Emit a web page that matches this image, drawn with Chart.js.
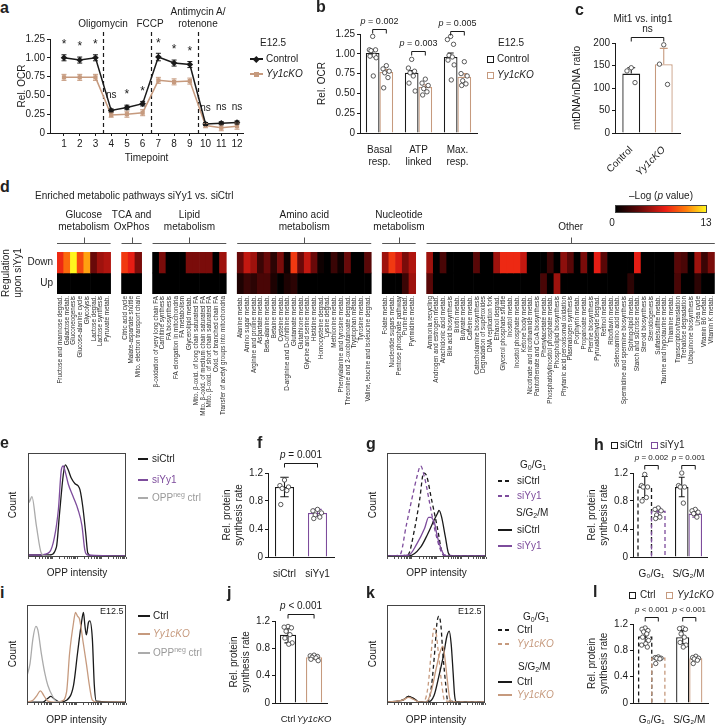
<!DOCTYPE html>
<html>
<head>
<meta charset="utf-8">
<title>Yy1 metabolism figure</title>
<script src="https://cdn.jsdelivr.net/npm/chart.js@4.4.1/dist/chart.umd.min.js"></script>
<style>
  body { margin: 0; background: #fff; font-family: "Liberation Sans", Arial, sans-serif; color: #222; }
  #fig { position: relative; width: 721px; height: 726px; overflow: hidden; }
  .c { position: absolute; }
  .t { position: absolute; font-size: 10px; line-height: 12px; white-space: nowrap; }
  .L { position: absolute; font-weight: bold; font-size: 16px; line-height: 16px; }
  .sup { font-size: 7px; vertical-align: 4px; line-height: 0; }
  .sub { font-size: 7px; vertical-align: -2px; line-height: 0; }
</style>
</head>
<body>
<div id="fig"></div>
<script>
const TAN = '#c69a7e', PURPLE = '#7d4c9c', GRAY = '#ababab', INK = '#1a1a1a';
const FONT = "'Liberation Sans', Arial, sans-serif";

// ---- a: OCR time course
const aTime = [1, 2, 3, 4, 5, 6, 7, 8, 9, 10, 11, 12];
const aControl = [1.00, 0.97, 1.00, 0.30, 0.34, 0.39, 1.01, 0.93, 0.91, 0.12, 0.13, 0.14];
const aControlErr = [0.04, 0.04, 0.04, 0.02, 0.03, 0.03, 0.05, 0.04, 0.04, 0.02, 0.02, 0.02];
const aKO = [0.74, 0.74, 0.74, 0.24, 0.25, 0.27, 0.70, 0.68, 0.69, 0.10, 0.07, 0.09];
const aKOErr = [0.04, 0.04, 0.04, 0.03, 0.04, 0.04, 0.04, 0.04, 0.04, 0.03, 0.04, 0.04];
const aSig = ['*', '*', '*', 'ns', '*', '*', '*', '*', '*', 'ns', 'ns', 'ns'];
const aInjections = [3.5, 6.5, 9.5];

// ---- b: OCR parameters
const bCats = [['Basal', 'resp.'], ['ATP', 'linked'], ['Max.', 'resp.']];
const bControl = [1.01, 0.76, 0.96];
const bControlErr = [0.04, 0.03, 0.05];
const bKO = [0.77, 0.58, 0.71];
const bKOErr = [0.03, 0.03, 0.04];
const bControlPts = [[1.22, 1.05, 1.05, 1.04, 0.98, 0.97, 0.95, 0.72], [0.93, 0.82, 0.78, 0.76, 0.72, 0.63, 0.53], [1.22, 1.18, 1.12, 0.98, 0.96, 0.92, 0.86, 0.67]];
const bKOPts = [[0.85, 0.81, 0.78, 0.76, 0.70, 0.57], [0.68, 0.63, 0.60, 0.56, 0.52, 0.48], [0.90, 0.75, 0.72, 0.66, 0.62, 0.60]];
const bPvals = ['p = 0.002', 'p = 0.003', 'p = 0.005'];
const bBracket = [1.31, 1.04, 1.29];

// ---- c: mtDNA / nDNA
const cCats = ['Control', 'Yy1cKO'];
const cMeans = [132, 153];
const cErr = [13, 35];
const cPts = [[145, 138, 112], [196, 153, 108]];

// ---- d: pathway heatmap (-log p)
const hmGroupTitles = [['Glucose', 'metabolism'], ['TCA and', 'OxPhos'], ['Lipid', 'metabolism'], ['Amino acid', 'metabolism'], ['Nucleotide', 'metabolism'], ['', 'Other']];
const hmGlucose = ['Fructose and mannose degrad.', 'Galactose metab.', 'Gluconeogenesis', 'Glucose-alanine cycle', 'Glycolysis', 'Lactose degrad.', 'Lactose synthesis', 'Pyruvate metab.'];
const hmTca = ['Citric acid cycle', 'Malate-aspartate shuttle', 'Mito. electron transport chain'];
const hmLipid = ['β-oxidation of very long chain FA', 'Carnitine synthesis', 'FA biosynthesis', 'FA elongation in mitochondria', 'FA metabolism', 'Glycerolipid metab.', 'Mito. β-oxid. of long chain saturated FA', 'Mito. β-oxid. of medium chain saturated FA', 'Mito. β-oxid. of short chain saturated FA', 'Oxid. of branched chain FA', 'Transfer of acetyl groups into mitochondria'];
const hmAmino = ['Alanine metab.', 'Amino sugar metab.', 'Arginine and proline metab.', 'Aspartate metab.', 'Beta-alanine metab.', 'Betaine metab.', 'Cysteine metab.', 'D-arginine and D-ornithine metab.', 'Glutamate metab.', 'Glutathione metab.', 'Glycine and serine metab.', 'Histidine metab.', 'Homocysteine degrad.', 'Lysine degrad.', 'Methionine metab.', 'Phenylalanine and tyrosine metab.', 'Threonine and 2-oxobutanoate degrad.', 'Tryptophan metab.', 'Tyrosine metab.', 'Valine, leucine and isoleucine degrad.'];
const hmNucleotide = ['Folate metab.', 'Nucleotide sugars metab.', 'Pentose phosphate pathway', 'Purine metab.', 'Pyrimidine metab.'];
const hmOther = ['Ammonia recycling', 'Androgen and estrogen metab.', 'Arachidonic acid metab.', 'Bile acid biosynthesis', 'Biotin metab.', 'Butyrate metab.', 'Caffeine metab.', 'Catecholamine biosynthesis', 'Degradation of superoxides', 'DNA replication fork', 'Ethanol degrad.', 'Glycerol phosphate shuttle', 'Inositol metab.', 'Inositol phosphate metab.', 'Ketone body metab.', 'Nicotinate and nicotinamide metab.', 'Pantothenate and CoA biosynthesis', 'Phenylacetate metab.', 'Phosphatidylinositol phosphate metab.', 'Phospholipid biosynthesis', 'Phytanic acid peroxisomal oxidation', 'Plasmalogen synthesis', 'Porphyrin metab.', 'Propanoate metab.', 'Pterine biosynthesis', 'Pyruvaldehyde degrad.', 'Retinol metab.', 'Riboflavin metab.', 'Selenoamino acid metab.', 'Spermidine and spermine biosynthesis', 'Sphingolipid metab.', 'Starch and sucrose metab.', 'Steroid biosynthesis', 'Steroidogenesis', 'Sulfate/sulfite metab.', 'Taurine and hypotaurine metab.', 'Thiamine metab.', 'Transcription/translation', 'Trehalose degradation', 'Ubiquinone biosynthesis', 'Urea cycle', 'Vitamin B6 metab.', 'Vitamin K metab.'];
const hmDown = [
  [7.5, 9.5, 13, 8.5, 11, 3.5, 5, 5.5],
  [8, 7, 4],
  [0, 4, 0, 0, 0, 4, 4, 4, 4, 0, 5],
  [3.5, 6, 5, 2, 3.5, 1.5, 4, 0.5, 8, 3.5, 6, 3.5, 0.5, 0, 2, 0.5, 3.5, 0, 0, 3],
  [5, 8, 6.5, 4, 5.5],
  [5, 0, 2.5, 0, 0, 0, 0, 3, 0, 0, 5, 7.5, 7.5, 7.5, 6, 0, 0, 0, 2, 0, 4.5, 3, 0, 4, 0, 7, 3, 0, 0, 0, 0, 7, 0, 0, 0, 0, 0, 3, 2.5, 0, 5, 2, 4]
];
const hmUp = [
  [0, 0, 0, 0, 0, 0, 0, 0],
  [0, 0, 0],
  [0, 0, 0, 0, 0, 0, 0, 0, 0, 0, 0],
  [1, 2, 1.5, 2.5, 2.5, 1, 0, 1, 1.5, 0, 0, 0, 0, 0, 0, 0, 0, 0, 0, 0],
  [0, 0, 0, 2, 5],
  [3, 0, 0, 0, 0, 0, 0, 0, 0, 0, 0, 0, 0, 0, 0, 0, 0, 2.5, 0, 5, 0, 0, 0, 0, 0, 0, 0, 0, 0, 0, 1.5, 0, 0, 0, 0, 0, 0, 2.5, 0, 0, 1.5, 0, 0]
];
const hmScaleMax = 13;

// ---- e, g, i, k: OPP histograms, [log intensity (decades), relative count]
const eSiCtrl = [[0, 0.02], [0.88, 0.02], [1.16, 0.1], [1.28, 0.42], [1.44, 0.83], [1.52, 0.93], [1.64, 0.88], [1.76, 0.8], [1.92, 0.74], [2.04, 0.72], [2.12, 0.68], [2.24, 0.5], [2.36, 0.23], [2.44, 0.04], [2.6, 0.01], [4, 0.01]];
const eSiYy1 = [[0, 0.02], [0.5, 0.02], [0.88, 0.05], [1.08, 0.2], [1.24, 0.48], [1.36, 0.88], [1.44, 0.92], [1.5, 0.88], [1.64, 0.74], [1.84, 0.61], [2.04, 0.48], [2.2, 0.32], [2.32, 0.07], [2.44, 0.02], [4, 0.01]];
const eNeg = [[0, 0.97], [0.04, 0.55], [0.16, 0.61], [0.34, 0.32], [0.54, 0.04], [0.7, 0.01], [0.9, 0.01]];
const gG1SiCtrl = [[0, 0.01], [0.84, 0.02], [1.12, 0.29], [1.32, 0.58], [1.48, 0.85], [1.6, 0.82], [1.8, 0.58], [2.04, 0.29], [2.2, 0.07], [2.32, 0.01], [4, 0.01]];
const gG1SiYy1 = [[0, 0.01], [0.52, 0.02], [0.78, 0.32], [1.0, 0.58], [1.2, 0.8], [1.36, 0.92], [1.52, 0.8], [1.72, 0.55], [1.92, 0.29], [2.12, 0.1], [2.28, 0.02], [4, 0.01]];
const gG2SiCtrl = [[0, 0.01], [0.88, 0.01], [1.36, 0.1], [1.64, 0.23], [1.88, 0.36], [2.04, 0.44], [2.1, 0.47], [2.2, 0.41], [2.36, 0.2], [2.48, 0.04], [2.6, 0.01], [4, 0.01]];
const gG2SiYy1 = [[0, 0.01], [0.88, 0.02], [1.2, 0.13], [1.52, 0.29], [1.68, 0.4], [1.76, 0.4], [1.92, 0.34], [2.04, 0.2], [2.24, 0.05], [2.36, 0.01], [4, 0.01]];
const iCtrl = [[0, 0.01], [0.64, 0.01], [0.84, 0.05], [0.96, 0.07], [1.12, 0.04], [1.32, 0.01], [1.6, 0.03], [1.88, 0.19], [2.04, 0.53], [2.2, 0.86], [2.28, 0.97], [2.34, 0.83], [2.4, 0.73], [2.48, 0.86], [2.54, 0.88], [2.64, 0.69], [2.72, 0.19], [2.8, 0.02], [4, 0.01]];
const iKO = [[0, 0.01], [0.24, 0.03], [0.4, 0.08], [0.54, 0.13], [0.68, 0.08], [0.84, 0.02], [1.16, 0.01], [1.4, 0.02], [1.6, 0.12], [1.72, 0.53], [1.88, 0.86], [1.96, 0.97], [2.04, 0.93], [2.12, 0.9], [2.28, 0.63], [2.4, 0.42], [2.52, 0.19], [2.64, 0.03], [2.8, 0.01], [4, 0.01]];
const iNeg = [[0, 0.29], [0.12, 0.42], [0.24, 0.69], [0.36, 0.82], [0.44, 0.78], [0.58, 0.53], [0.72, 0.32], [0.84, 0.19], [1.04, 0.07], [1.24, 0.01], [1.4, 0.01]];
const kG1Ctrl = [[0, 0.01], [0.64, 0.03], [0.88, 0.07], [1.08, 0.05], [1.32, 0.01], [1.68, 0.02], [1.82, 0.19], [1.96, 0.59], [2.04, 0.86], [2.12, 0.93], [2.2, 0.83], [2.28, 0.53], [2.4, 0.19], [2.48, 0.02], [4, 0.01]];
const kG1KO = [[0, 0.01], [0.64, 0.03], [0.88, 0.07], [1.08, 0.05], [1.32, 0.01], [1.54, 0.03], [1.68, 0.19], [1.8, 0.53], [1.92, 0.8], [2.0, 0.76], [2.1, 0.53], [2.24, 0.19], [2.36, 0.02], [4, 0.01]];
const kG2Ctrl = [[0, 0.01], [0.64, 0.03], [0.88, 0.07], [1.08, 0.05], [1.32, 0.01], [1.68, 0.01], [1.92, 0.08], [2.12, 0.29], [2.32, 0.53], [2.44, 0.71], [2.54, 0.77], [2.62, 0.63], [2.7, 0.32], [2.76, 0.08], [2.84, 0.01], [4, 0.01]];
const kG2KO = [[0, 0.01], [0.64, 0.03], [0.88, 0.06], [1.08, 0.04], [1.32, 0.01], [1.6, 0.01], [1.8, 0.12], [2.0, 0.36], [2.16, 0.54], [2.28, 0.61], [2.36, 0.49], [2.46, 0.25], [2.56, 0.05], [2.68, 0.01], [4, 0.01]];

// ---- f, h, j, l: relative protein synthesis
const fCats = ['siCtrl', 'siYy1'];
const fMeans = [1.0, 0.63];
const fErr = [0.14, 0.05];
const fPts = [[1.10, 1.02, 1.00, 0.98, 0.95, 0.75], [0.68, 0.66, 0.63, 0.60, 0.57, 0.55]];
const hCats = ['G₀/G₁', 'S/G₂/M'];
const hSiCtrl = [1.0, 1.0];
const hSiCtrlErr = [0.15, 0.14];
const hSiCtrlPts = [[1.18, 1.02, 1.0, 1.0, 0.85, 0.80], [1.2, 1.02, 1.0, 1.0, 0.77]];
const hSiYy1 = [0.65, 0.62];
const hSiYy1Err = [0.05, 0.05];
const hSiYy1Pts = [[0.70, 0.68, 0.66, 0.60, 0.57, 0.55], [0.68, 0.66, 0.64, 0.62, 0.57]];
const hPvals = ['p = 0.002', 'p = 0.001'];
const jCats = ['Ctrl', 'Yy1cKO'];
const jMeans = [1.0, 0.67];
const jErr = [0.12, 0.03];
const jPts = [[1.12, 1.11, 1.10, 1.05, 1.0, 0.95, 0.88, 0.86], [0.70, 0.69, 0.68, 0.67, 0.66, 0.64, 0.62]];
const lCats = ['G₀/G₁', 'S/G₂/M'];
const lCtrl = [1.0, 1.0];
const lCtrlErr = [0.12, 0.10];
const lCtrlPts = [[1.14, 1.12, 1.10, 1.08, 1.05, 1.0, 0.95, 0.90, 0.88, 0.85], [1.14, 1.13, 1.12, 1.05, 1.0, 0.92, 0.88, 0.85]];
const lKO = [0.68, 0.68];
const lKOErr = [0.02, 0.02];
const lKOPts = [[0.70, 0.69, 0.68, 0.68, 0.67, 0.60], [0.71, 0.69, 0.68, 0.67, 0.65, 0.60]];
const lPvals = ['p < 0.001', 'p < 0.001'];

// ------------------------------------------------------------------
Chart.defaults.font.family = FONT;
Chart.defaults.font.size = 10;
Chart.defaults.color = INK;
Chart.defaults.animation = false;
Chart.defaults.responsive = false;
Chart.defaults.events = [];
Chart.defaults.plugins.legend.display = false;
Chart.defaults.plugins.tooltip.enabled = false;

const fig = document.getElementById('fig');

function addCanvas(x, y, w, h) {
  const cv = document.createElement('canvas');
  cv.width = w; cv.height = h;
  cv.className = 'c';
  cv.style.left = x + 'px'; cv.style.top = y + 'px';
  cv.style.width = w + 'px'; cv.style.height = h + 'px';
  fig.appendChild(cv);
  return cv;
}

// text centred vertically on yc
function txt(x, yc, html, align, extra) {
  const d = document.createElement('div');
  d.className = 't';
  d.innerHTML = html;
  d.style.top = (yc - 6) + 'px';
  d.style.left = x + 'px';
  if (align === 'c') d.style.transform = 'translateX(-50%)';
  if (extra) d.style.cssText += extra;
  fig.appendChild(d);
}
function letter(ch, x, y) {
  const d = document.createElement('div');
  d.className = 'L';
  d.textContent = ch;
  d.style.left = x + 'px'; d.style.top = y + 'px';
  fig.appendChild(d);
}
function lgLine(x, yc, w, color, dash) {
  const d = document.createElement('div');
  const bg = dash ? `repeating-linear-gradient(90deg, ${color} 0 4px, transparent 4px 7px)` : color;
  d.style.cssText = `position:absolute;left:${x}px;top:${yc - 0.75}px;width:${w}px;height:1.5px;background:${bg};`;
  fig.appendChild(d);
}
function lgMark(x, yc, s, color, opts) {
  const d = document.createElement('div');
  const o = opts || {};
  d.style.cssText = `position:absolute;left:${x - s / 2}px;top:${yc - s / 2}px;width:${s}px;height:${s}px;box-sizing:border-box;` +
    (o.open ? `border:1.3px solid ${color};background:#fff;` : `background:${color};`) +
    (o.rot ? 'transform:rotate(45deg);' : '');
  fig.appendChild(d);
}

function at(v, i) { return Array.isArray(v) ? v[i] : v; }

function valueAxis(min, max, step, width, fmt, title) {
  return {
    type: 'linear', min, max,
    afterBuildTicks: s => {
      s.ticks = [];
      for (let v = min; v <= max + 1e-9; v += step) s.ticks.push({ value: Math.round(v * 1000) / 1000 });
    },
    afterFit: s => { s.width = width; },
    grid: { display: true, drawOnChartArea: false, drawTicks: true, tickLength: 3, color: INK, lineWidth: 1 },
    border: { display: true, color: INK, width: 1 },
    ticks: { padding: 2, color: INK, callback: fmt },
    title: { display: !!title, text: title || '', padding: 0, color: INK, font: { size: 10 } }
  };
}

function drawLabel(ctx, text, cx, cy, size) {
  ctx.save();
  ctx.textBaseline = 'middle';
  ctx.fillStyle = INK;
  const fN = size + 'px ' + FONT, fI = 'italic ' + fN;
  if (text.startsWith('p ')) {
    ctx.font = fI; const w1 = ctx.measureText('p').width;
    const rest = text.slice(1);
    ctx.font = fN; const w2 = ctx.measureText(rest).width;
    const x = cx - (w1 + w2) / 2;
    ctx.textAlign = 'left';
    ctx.font = fI; ctx.fillText('p', x, cy);
    ctx.font = fN; ctx.fillText(rest, x + w1, cy);
  } else {
    ctx.font = fN; ctx.textAlign = 'center'; ctx.fillText(text, cx, cy);
  }
  ctx.restore();
}

const JITTER = [0, -0.8, 0.7, -0.4, 0.4, -0.65, 0.85, 0.15, -0.9, 0.55];

function barExtras(o) {
  return {
    id: 'barExtras',
    afterDatasetsDraw(chart) {
      const ctx = chart.ctx, ys = chart.scales.y;
      o.series.forEach((s, di) => {
        const meta = chart.getDatasetMeta(di);
        meta.data.forEach((el, i) => {
          const col = at(s.color, i), w = el.width;
          ctx.save();
          ctx.strokeStyle = col; ctx.lineWidth = 1.3;
          if (at(s.dash, i)) {
            ctx.setLineDash([4, 3]);
            ctx.beginPath();
            ctx.moveTo(el.x - w / 2, el.base); ctx.lineTo(el.x - w / 2, el.y);
            ctx.lineTo(el.x + w / 2, el.y); ctx.lineTo(el.x + w / 2, el.base);
            ctx.stroke();
            ctx.setLineDash([]);
          }
          const top = ys.getPixelForValue(s.data[i] + s.err[i]);
          const bot = o.errBoth ? ys.getPixelForValue(s.data[i] - s.err[i]) : el.y;
          const cap = Math.max(2.5, w * 0.22);
          ctx.lineWidth = 1.1;
          ctx.beginPath();
          ctx.moveTo(el.x, bot); ctx.lineTo(el.x, top);
          ctx.moveTo(el.x - cap, top); ctx.lineTo(el.x + cap, top);
          if (o.errBoth) { ctx.moveTo(el.x - cap, bot); ctx.lineTo(el.x + cap, bot); }
          ctx.stroke();
          ctx.fillStyle = '#fff'; ctx.strokeStyle = '#333'; ctx.lineWidth = 0.8;
          (s.pts[i] || []).forEach((v, k) => {
            const px = el.x + JITTER[k % JITTER.length] * w * 0.3;
            const py = ys.getPixelForValue(v);
            ctx.beginPath(); ctx.arc(px, py, 2.2, 0, Math.PI * 2); ctx.fill(); ctx.stroke();
          });
          ctx.restore();
        });
      });
      (o.brackets || []).forEach(b => {
        const x0 = chart.getDatasetMeta(b.from[0]).data[b.from[1]].x;
        const x1 = chart.getDatasetMeta(b.to[0]).data[b.to[1]].x;
        const yy = Math.round(ys.getPixelForValue(b.y)) + 0.5;
        ctx.save();
        ctx.strokeStyle = INK; ctx.lineWidth = 1;
        ctx.beginPath();
        ctx.moveTo(x0, yy + 4); ctx.lineTo(x0, yy); ctx.lineTo(x1, yy); ctx.lineTo(x1, yy + 4);
        ctx.stroke();
        ctx.restore();
        drawLabel(ctx, b.text, (x0 + x1) / 2, yy - 8, b.size || 9);
      });
    }
  };
}

function barPanel(cv, o) {
  const datasets = o.series.map(s => ({
    data: s.data,
    backgroundColor: '#fff',
    borderColor: o.cats.map((c, i) => at(s.dash, i) ? 'rgba(0,0,0,0)' : at(s.color, i)),
    borderWidth: 1.3,
    borderSkipped: 'start',
    categoryPercentage: o.catPct,
    barPercentage: 1
  }));
  const xTicks = { padding: 3, color: INK, autoSkip: false, font: o.tickFont || { size: 10 } };
  if (o.rot) { xTicks.minRotation = o.rot; xTicks.maxRotation = o.rot; } else { xTicks.maxRotation = 0; }
  return new Chart(cv, {
    type: 'bar',
    data: { labels: o.cats, datasets },
    options: {
      layout: { padding: o.pad },
      scales: {
        x: { afterFit: s => { s.height = o.xH; }, grid: { display: false }, border: { display: true, color: INK, width: 1 }, ticks: xTicks },
        y: valueAxis(o.y[0], o.y[1], o.y[2], o.yW, o.fmt, o.title)
      }
    },
    plugins: [barExtras(o)]
  });
}

const LOG_TICKS = [];
for (let d = 0; d < 4; d++) for (let k = 1; k < 10; k++) LOG_TICKS.push(d + Math.log10(k));
LOG_TICKS.push(4);

const frame = {
  id: 'frame',
  afterDatasetsDraw(chart) {
    const a = chart.chartArea, ctx = chart.ctx;
    ctx.save();
    ctx.strokeStyle = '#444'; ctx.lineWidth = 1;
    ctx.strokeRect(Math.round(a.left) + 0.5, Math.round(a.top) + 0.5, Math.round(a.right - a.left) - 1, Math.round(a.bottom - a.top) - 1);
    ctx.restore();
  }
};

function histPanel(cv, curves, yW, xH) {
  return new Chart(cv, {
    type: 'line',
    data: {
      datasets: curves.map(c => ({
        data: c.pts.map(p => ({ x: p[0], y: p[1] })),
        borderColor: c.color, borderWidth: 1.3, borderDash: c.dash ? [4, 3] : [],
        pointRadius: 0, cubicInterpolationMode: 'monotone', fill: false
      }))
    },
    options: {
      layout: { padding: { top: 5, right: 3, left: 0, bottom: 0 } },
      scales: {
        x: {
          type: 'linear', min: 0, max: 4,
          afterBuildTicks: s => { s.ticks = LOG_TICKS.map(v => ({ value: v })); },
          afterFit: s => { s.height = xH; },
          grid: { display: true, drawOnChartArea: false, drawTicks: true, tickLength: 2, color: '#555' },
          border: { display: false },
          ticks: { display: false },
          title: { display: true, text: 'OPP intensity', padding: 0, font: { size: 10 } }
        },
        y: {
          type: 'linear', min: 0, max: 1.05,
          afterFit: s => { s.width = yW; },
          grid: { display: false }, border: { display: false }, ticks: { display: false },
          title: { display: true, text: 'Count', padding: 0, font: { size: 10 } }
        }
      }
    },
    plugins: [frame]
  });
}

// ---- panel a
const aExtras = {
  id: 'aExtras',
  beforeDatasetsDraw(chart) {
    const ctx = chart.ctx, xs = chart.scales.x, a = chart.chartArea;
    ctx.save();
    ctx.strokeStyle = INK; ctx.lineWidth = 1.2; ctx.setLineDash([4, 3]);
    aInjections.forEach(t => {
      const x = Math.round(xs.getPixelForValue(t)) + 0.5;
      ctx.beginPath(); ctx.moveTo(x, a.top - 7); ctx.lineTo(x, a.bottom); ctx.stroke();
    });
    ctx.restore();
  },
  afterDatasetsDraw(chart) {
    const ctx = chart.ctx, xs = chart.scales.x, ys = chart.scales.y;
    ctx.save();
    [[aKO, aKOErr, TAN], [aControl, aControlErr, INK]].forEach(([v, e, col]) => {
      ctx.strokeStyle = col; ctx.lineWidth = 1;
      aTime.forEach((t, i) => {
        const x = xs.getPixelForValue(t), y0 = ys.getPixelForValue(v[i] - e[i]), y1 = ys.getPixelForValue(v[i] + e[i]);
        ctx.beginPath();
        ctx.moveTo(x, y0); ctx.lineTo(x, y1);
        ctx.moveTo(x - 2.5, y0); ctx.lineTo(x + 2.5, y0);
        ctx.moveTo(x - 2.5, y1); ctx.lineTo(x + 2.5, y1);
        ctx.stroke();
      });
    });
    ctx.fillStyle = INK; ctx.textAlign = 'center'; ctx.textBaseline = 'middle';
    aSig.forEach((s, i) => {
      const x = xs.getPixelForValue(aTime[i]);
      const y = ys.getPixelForValue(aControl[i] + aControlErr[i]);
      if (s === '*') { ctx.font = '12px ' + FONT; ctx.fillText('*', x, y - 10); }
      else { ctx.font = '10px ' + FONT; ctx.fillText(s, x, y - 14); }
    });
    ctx.restore();
  }
};

new Chart(addCanvas(16, 10, 231, 154), {
  type: 'line',
  data: {
    datasets: [
      { label: 'Control', data: aTime.map((t, i) => ({ x: t, y: aControl[i] })), borderColor: INK, backgroundColor: INK, borderWidth: 1.5, pointStyle: 'rectRot', pointRadius: 3.3, pointBorderWidth: 0 },
      { label: 'Yy1cKO', data: aTime.map((t, i) => ({ x: t, y: aKO[i] })), borderColor: TAN, backgroundColor: TAN, borderWidth: 1.5, pointStyle: 'rect', pointRadius: 3, pointBorderWidth: 0 }
    ]
  },
  options: {
    layout: { padding: { top: 29, right: 4, left: 0, bottom: 0 } },
    scales: {
      x: {
        type: 'linear', min: 0.11, max: 12.38,
        afterBuildTicks: s => { s.ticks = aTime.map(v => ({ value: v })); },
        afterFit: s => { s.height = 31; },
        grid: { display: true, drawOnChartArea: false, drawTicks: true, tickLength: 3, color: INK },
        border: { display: true, color: INK, width: 1 },
        ticks: { padding: 2, maxRotation: 0, autoSkip: false },
        title: { display: true, text: 'Timepoint', padding: 0, font: { size: 10 } }
      },
      y: valueAxis(0, 1.25, 0.25, 34, v => v === 0 ? '0' : v.toFixed(2), 'Rel. OCR')
    }
  },
  plugins: [aExtras]
});

// ---- panel b
barPanel(addCanvas(316, 5, 164, 170), {
  cats: bCats,
  series: [
    { data: bControl, err: bControlErr, pts: bControlPts, color: INK },
    { data: bKO, err: bKOErr, pts: bKOPts, color: TAN }
  ],
  catPct: 0.7, pad: { top: 29, right: 3, left: 0, bottom: 0 }, yW: 44, xH: 42,
  y: [0, 1.25, 0.25], fmt: v => v === 0 ? '0' : v.toFixed(2), title: 'Rel. OCR',
  brackets: bCats.map((c, i) => ({ from: [0, i], to: [1, i], y: bBracket[i], text: bPvals[i] }))
});

// ---- panel c
barPanel(addCanvas(571, 5, 113, 173), {
  cats: cCats,
  series: [{ data: cMeans, err: cErr, pts: cPts, color: [INK, TAN] }],
  catPct: 0.55, pad: { top: 38, right: 4, left: 0, bottom: 0 }, yW: 44, xH: 45, rot: 45,
  tickFont: ctx => ({ size: 10, style: ctx.index === 1 ? 'italic' : 'normal' }),
  y: [0, 200, 50], fmt: v => String(v), title: 'mtDNA/nDNA ratio',
  brackets: [{ from: [0, 0], to: [0, 1], y: 213, text: 'ns', size: 10 }]
});

// ---- panel d heatmap
const HEAT_STOPS = [[0, [0, 0, 0]], [0.25, [95, 8, 8]], [0.55, [235, 30, 20]], [0.78, [255, 125, 10]], [1, [255, 245, 30]]];
function heat(v) {
  const t = Math.max(0, Math.min(1, v / hmScaleMax));
  for (let k = 1; k < HEAT_STOPS.length; k++) {
    const [t0, c0] = HEAT_STOPS[k - 1], [t1, c1] = HEAT_STOPS[k];
    if (t <= t1) {
      const f = (t - t0) / (t1 - t0);
      return `rgb(${c0.map((c, j) => Math.round(c + (c1[j] - c) * f)).join(',')})`;
    }
  }
  return 'rgb(255,245,30)';
}
const hmGroups = [hmGlucose, hmTca, hmLipid, hmAmino, hmNucleotide, hmOther];
const GROUP_GAP = 1.63;
const hmX = [], hmNames = [], hmDownAll = [], hmUpAll = [], hmSpans = [];
hmGroups.forEach((names, g) => {
  const first = hmX.length + g * GROUP_GAP;
  names.forEach((n, j) => {
    hmX.push(hmX.length + g * GROUP_GAP);
    hmNames.push(n);
    hmDownAll.push(hmDown[g][j]);
    hmUpAll.push(hmUp[g][j]);
  });
  hmSpans.push([first, hmX[hmX.length - 1]]);
});

const hmExtras = {
  id: 'hmExtras',
  afterDraw(chart) {
    const ctx = chart.ctx, xs = chart.scales.x, top = chart.chartArea.top;
    ctx.save();
    ctx.strokeStyle = '#555'; ctx.lineWidth = 1; ctx.fillStyle = INK;
    ctx.font = '10px ' + FONT; ctx.textAlign = 'center'; ctx.textBaseline = 'middle';
    hmSpans.forEach((sp, g) => {
      const x0 = xs.getPixelForValue(sp[0] - 0.5), x1 = xs.getPixelForValue(sp[1] + 0.5);
      const xc = Math.round((x0 + x1) / 2) + 0.5, yb = Math.round(top - 9) + 0.5;
      ctx.beginPath();
      ctx.moveTo(x0, yb); ctx.lineTo(x1, yb);
      ctx.moveTo(xc, yb); ctx.lineTo(xc, yb - 6);
      ctx.stroke();
      hmGroupTitles[g].forEach((line, k) => ctx.fillText(line, (x0 + x1) / 2, top - 37 + k * 12));
    });
    ctx.restore();
  }
};

new Chart(addCanvas(0, 200, 721, 234), {
  type: 'bar',
  data: {
    datasets: [
      { data: hmX.map(x => ({ x, y: [1, 2] })), backgroundColor: hmDownAll.map(heat), borderWidth: 0, grouped: false, categoryPercentage: 1, barPercentage: 1 },
      { data: hmX.map(x => ({ x, y: [0, 1] })), backgroundColor: hmUpAll.map(heat), borderWidth: 0, grouped: false, categoryPercentage: 1, barPercentage: 1 }
    ]
  },
  options: {
    layout: { padding: { top: 52, right: 1, left: 0, bottom: 0 } },
    scales: {
      x: {
        type: 'linear', offset: false, min: -0.5, max: hmX[hmX.length - 1] + 0.5,
        afterBuildTicks: s => { s.ticks = hmX.map(v => ({ value: v })); },
        afterFit: s => { s.height = 140; },
        grid: { display: false, drawTicks: false }, border: { display: false },
        ticks: { autoSkip: false, minRotation: 90, maxRotation: 90, padding: 2, font: { size: 6.3 }, color: '#2a2a2a', callback: (v, i) => hmNames[i] }
      },
      y: {
        type: 'linear', min: 0, max: 2,
        afterBuildTicks: s => { s.ticks = [{ value: 0.5 }, { value: 1.5 }]; },
        afterFit: s => { s.width = 57; },
        grid: { display: false, drawTicks: false }, border: { display: false },
        ticks: { padding: 4, callback: v => v > 1 ? 'Down' : 'Up' },
        title: { display: true, text: ['Regulation', 'upon siYy1'], padding: 0, font: { size: 10 } }
      }
    }
  },
  plugins: [hmExtras]
});

// ---- histograms
histPanel(addCanvas(7, 448, 122, 131), [
  { pts: eNeg, color: GRAY },
  { pts: eSiYy1, color: PURPLE },
  { pts: eSiCtrl, color: INK }
], 21, 22);
histPanel(addCanvas(367, 448, 122, 131), [
  { pts: gG2SiYy1, color: PURPLE },
  { pts: gG2SiCtrl, color: INK },
  { pts: gG1SiYy1, color: PURPLE, dash: true },
  { pts: gG1SiCtrl, color: INK, dash: true }
], 20, 22);
histPanel(addCanvas(7, 600, 122, 126), [
  { pts: iNeg, color: GRAY },
  { pts: iKO, color: TAN },
  { pts: iCtrl, color: INK }
], 20, 23);
histPanel(addCanvas(367, 600, 121, 126), [
  { pts: kG2KO, color: TAN },
  { pts: kG2Ctrl, color: INK },
  { pts: kG1KO, color: TAN, dash: true },
  { pts: kG1Ctrl, color: INK, dash: true }
], 20, 23);

// ---- protein synthesis bars
const fmt1 = v => v === 0 ? '0' : v.toFixed(1);
const synthTitle = ['Rel. protein', 'synthesis rate'];
barPanel(addCanvas(221, 448, 115, 130), {
  cats: fCats,
  series: [{ data: fMeans, err: fErr, pts: fPts, color: [INK, PURPLE] }],
  catPct: 0.58, pad: { top: 25, right: 2, left: 0, bottom: 0 }, yW: 47, xH: 21, errBoth: true,
  y: [0, 1.2, 0.2], fmt: fmt1, title: synthTitle,
  brackets: [{ from: [0, 0], to: [0, 1], y: 1.34, text: 'p = 0.001', size: 10 }]
});
barPanel(addCanvas(586, 448, 123, 130), {
  cats: hCats,
  series: [
    { data: hSiCtrl, err: hSiCtrlErr, pts: hSiCtrlPts, color: INK, dash: [true, false] },
    { data: hSiYy1, err: hSiYy1Err, pts: hSiYy1Pts, color: PURPLE, dash: [true, false] }
  ],
  catPct: 0.73, pad: { top: 25, right: 2, left: 0, bottom: 0 }, yW: 47, xH: 21, errBoth: true,
  y: [0, 1.2, 0.2], fmt: fmt1, title: synthTitle,
  brackets: hCats.map((c, i) => ({ from: [0, i], to: [1, i], y: 1.31, text: hPvals[i], size: 8 }))
});
barPanel(addCanvas(228, 596, 107, 128), {
  cats: jCats,
  series: [{ data: jMeans, err: jErr, pts: jPts, color: [INK, TAN] }],
  catPct: 0.62, pad: { top: 25, right: 2, left: 0, bottom: 0 }, yW: 47, xH: 21, errBoth: true,
  tickFont: ctx => ({ size: 9.5, style: ctx.index === 1 ? 'italic' : 'normal' }),
  y: [0, 1.2, 0.2], fmt: fmt1, title: synthTitle,
  brackets: [{ from: [0, 0], to: [0, 1], y: 1.30, text: 'p < 0.001', size: 10 }]
});
barPanel(addCanvas(586, 596, 124, 128), {
  cats: lCats,
  series: [
    { data: lCtrl, err: lCtrlErr, pts: lCtrlPts, color: INK, dash: [true, false] },
    { data: lKO, err: lKOErr, pts: lKOPts, color: TAN, dash: [true, false] }
  ],
  catPct: 0.7, pad: { top: 28, right: 2, left: 0, bottom: 0 }, yW: 47, xH: 21, errBoth: true,
  y: [0, 1.2, 0.2], fmt: fmt1, title: synthTitle,
  brackets: lCats.map((c, i) => ({ from: [0, i], to: [1, i], y: 1.31, text: lPvals[i], size: 8 }))
});

// ---- text, legends, panel letters
letter('a', 0, 0); letter('b', 316, -1); letter('c', 575, 2); letter('d', 0, 179);
letter('e', 0, 435); letter('f', 257, 435); letter('g', 366, 436); letter('h', 594, 437);
letter('i', 0, 585); letter('j', 227, 585); letter('k', 366, 585); letter('l', 593, 584);

txt(103, 24, 'Oligomycin', 'c'); txt(150, 24, 'FCCP', 'c');
txt(198, 12, 'Antimycin A/', 'c'); txt(198, 24, 'rotenone', 'c');
txt(260, 43, 'E12.5');
lgLine(250, 59, 13, INK); lgMark(256.5, 59, 4.6, INK, { rot: true }); txt(266, 59, 'Control');
lgLine(250, 74, 13, TAN); lgMark(256.5, 74, 5, TAN); txt(266, 74, '<i>Yy1cKO</i>');

txt(498, 43, 'E12.5');
lgMark(490.5, 59, 7, INK, { open: true }); txt(497, 59, 'Control');
lgMark(490.5, 75, 7, TAN, { open: true }); txt(497, 75, '<i>Yy1cKO</i>');

txt(643, 19, 'Mit1 vs. intg1', 'c');

txt(35, 196, 'Enriched metabolic pathways siYy1 vs. siCtrl');
txt(661, 196, '\u2013Log (<i>p</i> value)', 'c');
(() => {
  const d = document.createElement('div');
  const grad = HEAT_STOPS.map(([t, c]) => `rgb(${c.join(',')}) ${t * 100}%`).join(', ');
  d.style.cssText = `position:absolute;left:615px;top:205px;width:92px;height:8px;box-sizing:border-box;border:0.5px solid #444;background:linear-gradient(90deg, ${grad});`;
  fig.appendChild(d);
})();
txt(612, 223, '0', 'c'); txt(706, 223, '13', 'c');

lgLine(138, 459, 10, INK); txt(152, 459, 'siCtrl');
lgLine(138, 480, 10, PURPLE); txt(152, 480, 'siYy1', '', 'color:' + PURPLE);
lgLine(138, 498, 10, GRAY); txt(152, 498, 'OPP<span class="sup">neg</span> ctrl', '', 'color:#999');

txt(520, 465, 'G<span class="sub">0</span>/G<span class="sub">1</span>');
lgLine(498, 481, 14, INK, true); txt(517, 481, 'siCtrl');
lgLine(498, 496, 14, PURPLE, true); txt(517, 496, 'siYy1', '', 'color:' + PURPLE);
txt(516, 513, 'S/G<span class="sub">2</span>/M');
lgLine(498, 530, 14, INK); txt(517, 530, 'siCtrl');
lgLine(498, 546, 14, PURPLE); txt(517, 546, 'siYy1', '', 'color:' + PURPLE);

lgMark(614, 445, 7, INK, { open: true }); txt(620, 445, 'siCtrl');
lgMark(654, 445, 7, PURPLE, { open: true }); txt(660, 445, 'siYy1');

txt(100, 611, 'E12.5', '', 'font-size:9px');
lgLine(138, 616, 12, INK); txt(153, 616, 'Ctrl');
lgLine(138, 634, 12, TAN); txt(153, 634, '<i>Yy1cKO</i>', '', 'color:' + TAN);
lgLine(138, 653, 12, GRAY); txt(153, 653, 'OPP<span class="sup">neg</span> ctrl', '', 'color:#999');

txt(458, 611, 'E12.5', '', 'font-size:9px');
txt(523, 617, 'G<span class="sub">0</span>/G<span class="sub">1</span>');
lgLine(498, 630, 14, INK, true); txt(517, 630, 'Ctrl');
lgLine(498, 644, 14, TAN, true); txt(517, 644, '<i>Yy1cKO</i>', '', 'color:' + TAN);
txt(518, 667, 'S/G<span class="sub">2</span>/M');
lgLine(498, 682, 14, INK); txt(517, 682, 'Ctrl');
lgLine(498, 695, 14, TAN); txt(517, 695, '<i>Yy1cKO</i>', '', 'color:' + TAN);

lgMark(632, 595, 7, INK, { open: true }); txt(640, 595, 'Ctrl');
lgMark(669, 595, 7, TAN, { open: true }); txt(677, 595, '<i>Yy1cKO</i>');
</script>
</body>
</html>
